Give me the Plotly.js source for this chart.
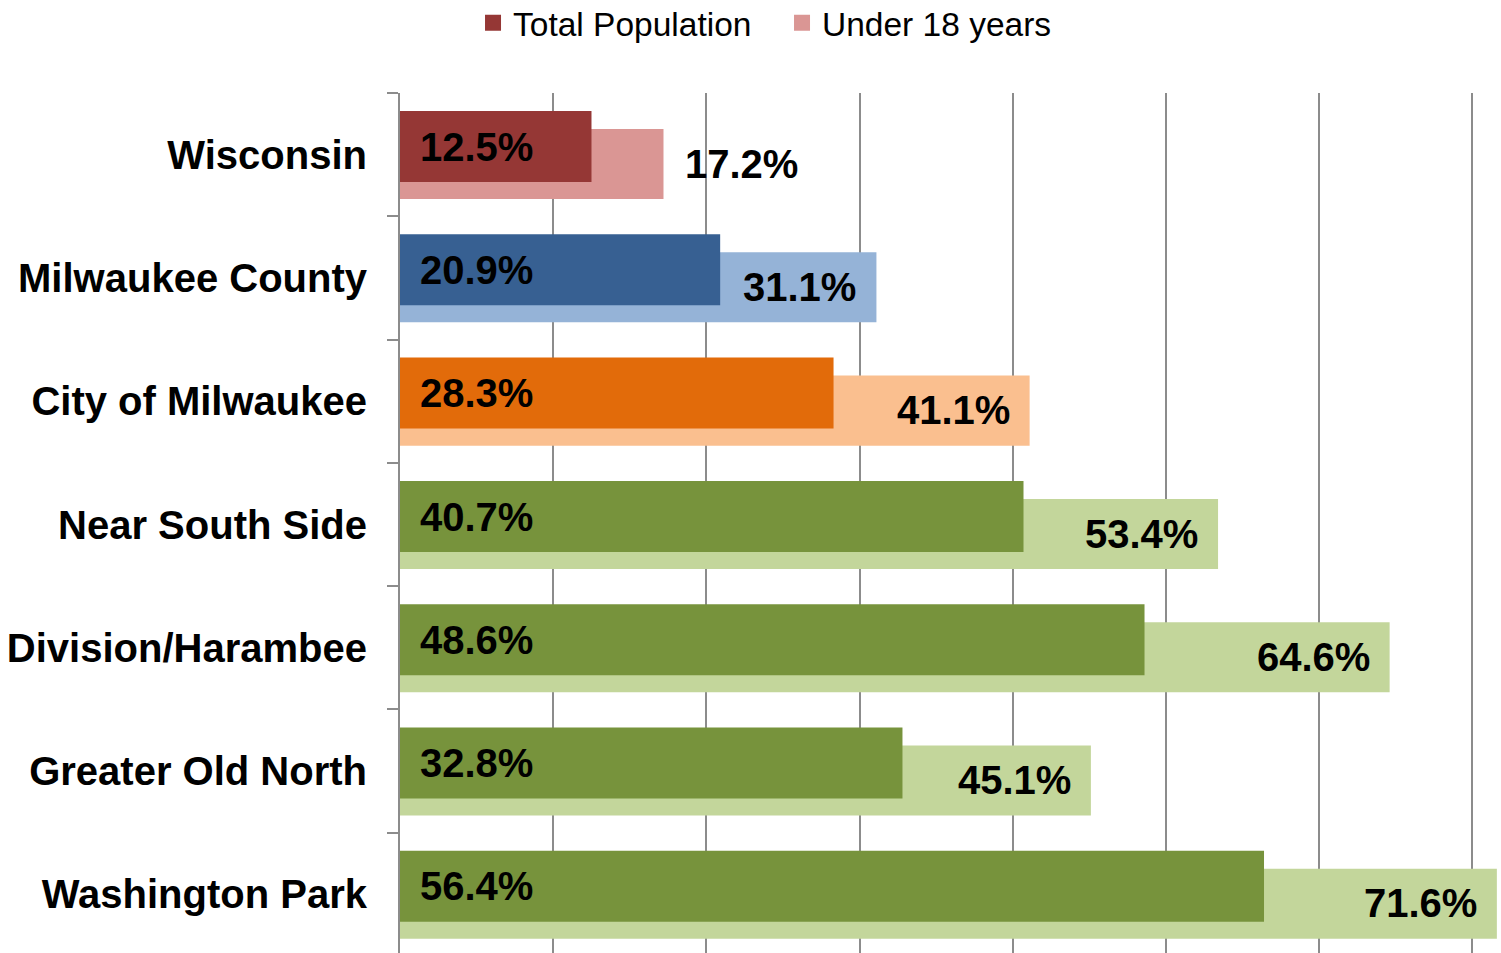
<!DOCTYPE html>
<html>
<head>
<meta charset="utf-8">
<script src="https://cdn.plot.ly/plotly-3.0.1.min.js"></script>
<style>html,body{margin:0;padding:0;background:#fff;}#chart{width:1501px;height:953px;}</style>
</head>
<body>
<div id="chart"></div>
<script>
const categories = ["Wisconsin", "Milwaukee County", "City of Milwaukee", "Near South Side", "Division/Harambee", "Greater Old North", "Washington Park"];
const totalPopulation = [12.5, 20.9, 28.3, 40.7, 48.6, 32.8, 56.4];
const under18 = [17.2, 31.1, 41.1, 53.4, 64.6, 45.1, 71.6];
const totalColors = ["#953735", "#376092", "#E26B0A", "#77933C", "#77933C", "#77933C", "#77933C"];
const under18Colors = ["#DA9694", "#95B3D7", "#FABF8F", "#C3D69B", "#C3D69B", "#C3D69B", "#C3D69B"];
const seriesNames = ["Total Population", "Under 18 years"];
const legendColors = ["#953735", "#DA9694"];

const FONT = "Liberation Sans, Arial, Helvetica, sans-serif";
const pxPerUnit = 1101 / 71.87;

const traces = [
  {
    type: "bar", orientation: "h", name: seriesNames[1],
    y: categories, x: under18,
    marker: {color: under18Colors, line: {width: 0}},
    width: 0.568, offset: -0.208,
    showlegend: false, hoverinfo: "x+y"
  },
  {
    type: "bar", orientation: "h", name: seriesNames[0],
    y: categories, x: totalPopulation,
    marker: {color: totalColors, line: {width: 0}},
    width: 0.576, offset: -0.354,
    showlegend: false, hoverinfo: "x+y"
  }
];
seriesNames.forEach((n, i) => {
  traces.push({
    type: "scatter", mode: "markers", name: n, x: [null], y: [null],
    marker: {symbol: "square", size: 17, color: legendColors[i]},
    showlegend: true, legendrank: i + 1, hoverinfo: "skip"
  });
});

const labelFont = {family: FONT, size: 40, color: "#000", weight: 700};
const annotations = [];
categories.forEach((c, i) => {
  annotations.push({
    xref: "x", yref: "y", x: 0, y: c, text: totalPopulation[i].toFixed(1) + "%",
    showarrow: false, xanchor: "left", yanchor: "middle", xshift: 18, yshift: 8,
    font: labelFont
  });
  const fits = (under18[i] - totalPopulation[i]) * pxPerUnit > 140;
  annotations.push({
    xref: "x", yref: "y", x: under18[i], y: c, text: under18[i].toFixed(1) + "%",
    showarrow: false, xanchor: fits ? "right" : "left", yanchor: "middle",
    xshift: fits ? -18 : 20, yshift: -9,
    font: labelFont
  });
});

const layout = {
  width: 1501, height: 953,
  margin: {l: 400, r: 0, t: 93, b: 0, pad: 0},
  paper_bgcolor: "#fff", plot_bgcolor: "#fff",
  barmode: "overlay",
  showlegend: true,
  legend: {
    orientation: "h", xref: "container", yref: "container",
    x: 0.521, xanchor: "center", y: 0.976, yanchor: "middle",
    font: {family: FONT, size: 33.5, color: "#000"},
    itemwidth: 30, entrywidth: 264, itemsizing: "trace"
  },
  xaxis: {
    range: [0, 71.87], dtick: 10, tick0: 0,
    showgrid: true, gridcolor: "#8c8c8c", gridwidth: 2,
    zeroline: false, showline: false, showticklabels: false, ticks: ""
  },
  yaxis: {
    type: "category", categoryorder: "array", categoryarray: categories,
    range: [6.475, -0.5],
    showgrid: false, zeroline: false,
    showline: true, linecolor: "#8c8c8c", linewidth: 2,
    ticks: "outside", tickson: "boundaries", ticklen: 11, tickwidth: 2, tickcolor: "#8c8c8c",
    ticklabelstandoff: 23,
    tickfont: {family: FONT, size: 40, color: "#000", weight: 700}
  },
  annotations: annotations
};

Plotly.newPlot("chart", traces, layout, {displayModeBar: false, staticPlot: true});
</script>
</body>
</html>
